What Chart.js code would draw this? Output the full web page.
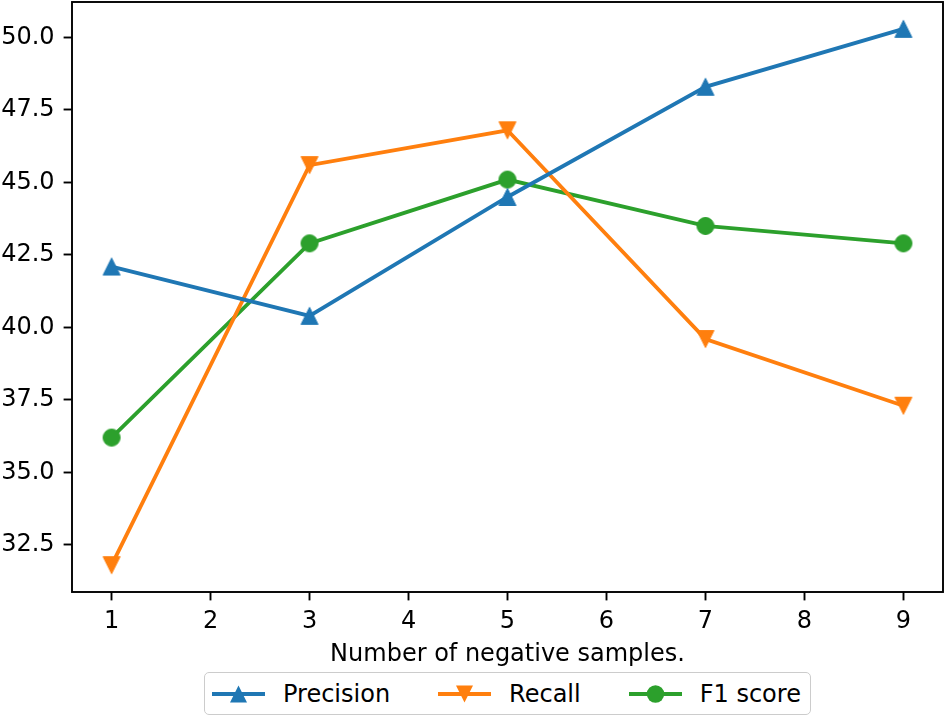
<!DOCTYPE html>
<html>
<head>
<meta charset="utf-8">
<script src="https://cdn.jsdelivr.net/npm/chart.js@4/dist/chart.umd.min.js"></script>
<style>
    body { margin: 0; background: #fff; }
    #wrap { position: relative; width: 947px; height: 717px; }
    #legend {
        position: absolute; top: 672px; left: 204px;
        border: 1.5px solid #cccccc; border-radius: 5px; background: #fff;
        display: flex; align-items: center; padding: 6.5px 9px 6.5px 7px;
        font: 24px "DejaVu Sans", sans-serif; line-height: 28px; color: #000; white-space: nowrap;
    }
    .item { display: flex; align-items: center; margin-right: 48px; }
    .item:last-child { margin-right: 0; }
    .item svg { margin-right: 18px; }
</style>
</head>
<body>
<div id="wrap">
    <canvas id="chart" width="947" height="717"></canvas>
    <div id="legend"></div>
</div>
<script>
const samples = [1, 3, 5, 7, 9];
const precision = [42.1, 40.4, 44.5, 48.3, 50.3];
const recall = [31.8, 45.6, 46.8, 39.6, 37.3];
const f1Score = [36.2, 42.9, 45.1, 43.5, 42.9];
const xTicks = [1, 2, 3, 4, 5, 6, 7, 8, 9];
const yTicks = [32.5, 35.0, 37.5, 40.0, 42.5, 45.0, 47.5, 50.0];

const seriesNames = ['Precision', 'Recall', 'F1 score'];
const seriesColors = ['#1f77b4', '#ff7f0e', '#2ca02c'];
const seriesMarkers = ['up', 'down', 'circle'];

function toPoints(values) {
    return samples.map((x, i) => ({ x: x, y: values[i] }));
}

// matplotlib style markers: triangles as tall as they are wide
function markerPath(ctx, shape, c, s) {
    const h = s / 2;
    ctx.beginPath();
    if (shape == 'up') {
        ctx.moveTo(c, c - h); ctx.lineTo(c + h, c + h); ctx.lineTo(c - h, c + h);
    } else if (shape == 'down') {
        ctx.moveTo(c, c + h); ctx.lineTo(c + h, c - h); ctx.lineTo(c - h, c - h);
    } else {
        ctx.arc(c, c, h, 0, Math.PI * 2);
    }
    ctx.closePath();
}

function makeMarker(shape, color) {
    const cv = document.createElement('canvas');
    cv.width = 20; cv.height = 20;
    const ctx = cv.getContext('2d');
    markerPath(ctx, shape, 10, 17);
    ctx.fillStyle = color;
    ctx.strokeStyle = color;
    ctx.lineWidth = 1;
    ctx.fill();
    ctx.stroke();
    return cv;
}

// black frame round the plot area
const framePlugin = {
    id: 'frame',
    afterDraw(chart) {
        const a = chart.chartArea;
        const ctx = chart.ctx;
        ctx.save();
        ctx.strokeStyle = '#000';
        ctx.lineWidth = 1.9;
        ctx.strokeRect(a.left, a.top, a.right - a.left, a.bottom - a.top);
        ctx.restore();
    }
};

const font = { family: 'DejaVu Sans', size: 24 };
const tickGrid = { drawOnChartArea: false, drawTicks: true, tickLength: 8.4, tickColor: '#000', tickWidth: 1.9 };

new Chart(document.getElementById('chart').getContext('2d'), {
    type: 'line',
    data: {
        datasets: [precision, recall, f1Score].map((vals, i) => ({
            label: seriesNames[i],
            data: toPoints(vals),
            borderColor: seriesColors[i],
            backgroundColor: seriesColors[i],
            pointStyle: makeMarker(seriesMarkers[i], seriesColors[i]),
            pointRadius: 9,
            pointHoverRadius: 9,
            borderWidth: 3.8,
            tension: 0,
            fill: false,
            clip: false
        }))
    },
    options: {
        responsive: false,
        animation: false,
        layout: { autoPadding: false, padding: { left: 0, top: 2, right: 4, bottom: 48 } },
        plugins: { legend: { display: false }, tooltip: { enabled: false } },
        scales: {
            x: {
                type: 'linear', min: 0.6, max: 9.4,
                afterBuildTicks: s => { s.ticks = xTicks.map(v => ({ value: v })); },
                afterFit: s => { s.height = 77; s.paddingLeft = 0; s.paddingRight = 0; },
                grid: tickGrid,
                border: { display: false },
                ticks: { color: '#000', font: font, padding: 7, maxRotation: 0 },
                title: {
                    display: true, text: 'Number of negative samples.', color: '#000',
                    font: font, padding: { top: 0, bottom: 0 }
                }
            },
            y: {
                type: 'linear', min: 30.875, max: 51.225,
                afterBuildTicks: s => { s.ticks = yTicks.map(v => ({ value: v })); },
                afterFit: s => { s.width = 72; s.paddingTop = 0; s.paddingBottom = 0; },
                grid: tickGrid,
                border: { display: false },
                ticks: { color: '#000', font: font, padding: 9, callback: v => v.toFixed(1) }
            }
        }
    },
    plugins: [framePlugin]
});

// legend as html: a line with the marker on it, then the name
const svgMarkers = [
    c => `<polygon points="26.5,1.5 35,18.5 18,18.5" fill="${c}"/>`,
    c => `<polygon points="26.5,18.5 35,1.5 18,1.5" fill="${c}"/>`,
    c => `<circle cx="26.5" cy="10" r="8.7" fill="${c}"/>`
];
const legend = document.getElementById('legend');
seriesNames.forEach((name, i) => {
    const c = seriesColors[i];
    const item = document.createElement('div');
    item.className = 'item';
    item.innerHTML = `<svg width="53" height="20"><line x1="0" y1="10" x2="53" y2="10" stroke="${c}" stroke-width="3.8"/>${svgMarkers[i](c)}</svg><span>${name}</span>`;
    legend.appendChild(item);
});
</script>
</body>
</html>
